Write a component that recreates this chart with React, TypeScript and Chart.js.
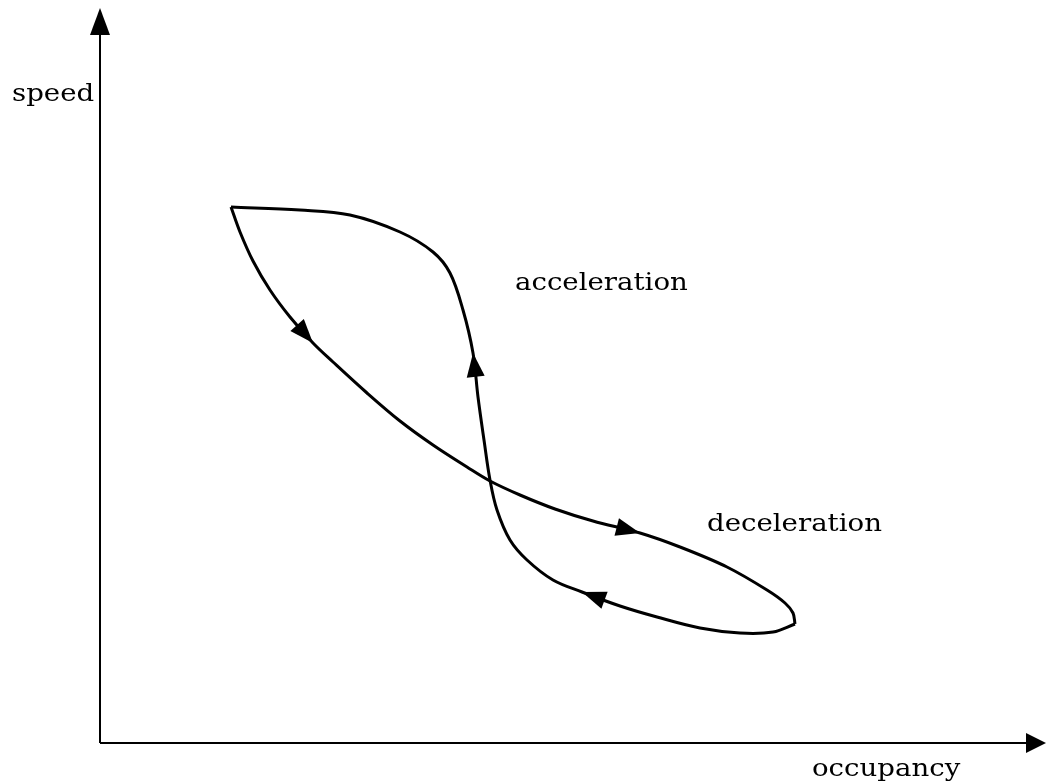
import React, { useEffect, useRef } from "react";
import { Chart, registerables } from "chart.js";

Chart.register(...registerables);

// Data in chart units: occupancy (x) and speed (y), origin at the axes' crossing
const accelOccupancy = [695, 673, 640, 600, 557, 520, 482, 453, 427, 410, 397, 390, 384, 378, 373, 363, 350, 333, 300, 250, 200, 131];
const accelSpeed = [119, 111, 110, 115, 126, 137, 151, 163, 183, 203, 233, 263, 303, 346, 390, 433, 470, 491, 511, 528, 533, 536];
const decelOccupancy = [131, 140, 153, 170, 190, 213, 233, 267, 300, 333, 367, 390, 420, 455, 493, 540, 580, 627, 667, 685, 693, 695];
const decelSpeed = [536, 511, 482, 453, 426, 400, 381, 350, 322, 298, 276, 262, 248, 234, 222, 210, 196, 176, 153, 140, 130, 119];
// arrow tips: [dataset index, point index]
const arrowMarks = [[0, 6], [0, 14], [1, 5], [1, 15]];
const axisLabels = ["speed", "occupancy"];
const branchLabels = ["acceleration", "deceleration"];
const labelPos = [[-88, 642], [712, -33], [415, 453], [607, 212]];

const X_MIN = -100, X_MAX = 946, Y_MIN = -39, Y_MAX = 743;

export default function App() {
  const ref = useRef<HTMLCanvasElement>(null);
  useEffect(() => {
    const canvas = ref.current!;
    const toPts = (xs: number[], ys: number[]) => xs.map((x, i) => ({ x, y: ys[i] }));
    const overlay = {
      id: "overlay",
      afterDatasetsDraw(chart: any) {
        const ctx = chart.ctx as CanvasRenderingContext2D;
        const xs = chart.scales.x, ys = chart.scales.y;
        const px = (v: number) => xs.getPixelForValue(v);
        const py = (v: number) => ys.getPixelForValue(v);
        ctx.save();
        ctx.strokeStyle = "#000";
        ctx.fillStyle = "#000";
        // axes
        ctx.lineWidth = 2;
        ctx.beginPath();
        ctx.moveTo(px(0), py(0));
        ctx.lineTo(px(0), py(Y_MAX - 20));
        ctx.moveTo(px(0), py(0));
        ctx.lineTo(px(X_MAX - 10), py(0));
        ctx.stroke();
        const tri = (tx: number, ty: number, dx: number, dy: number, len: number, hw: number) => {
          const l = Math.hypot(dx, dy);
          const ux = dx / l, uy = dy / l;
          const bx = tx - ux * len, by = ty - uy * len;
          ctx.beginPath();
          ctx.moveTo(tx, ty);
          ctx.lineTo(bx - uy * hw, by + ux * hw);
          ctx.lineTo(bx + uy * hw, by - ux * hw);
          ctx.closePath();
          ctx.fill();
        };
        // axis arrowheads
        tri(px(0), py(Y_MAX - 8), 0, -1, 27, 10);
        tri(px(X_MAX), py(0), 1, 0, 20, 10);
        // curve arrowheads
        arrowMarks.forEach(([d, i]) => {
          const pts = chart.getDatasetMeta(d).data;
          const p = pts[i], q = pts[i - 1];
          tri(p.x, p.y, p.x - q.x, p.y - q.y, 24, 9);
        });
        // labels (wide serif face, horizontally stretched)
        ctx.textBaseline = "alphabetic";
        ctx.textAlign = "left";
        const all = [...axisLabels, ...branchLabels];
        all.forEach((t, i) => {
          ctx.save();
          ctx.translate(px(labelPos[i][0]), py(labelPos[i][1]));
          ctx.scale(1.15, 1);
          ctx.font = "24px DejaVu Serif";
          ctx.fillText(t, 0, 0);
          ctx.restore();
        });
        ctx.restore();
      },
    };
    const chart = new Chart(canvas, {
      type: "scatter",
      data: {
        datasets: [
          { data: toPts(accelOccupancy, accelSpeed), showLine: true, borderColor: "#000", borderWidth: 3, pointRadius: 0, tension: 0.35, clip: false } as any,
          { data: toPts(decelOccupancy, decelSpeed), showLine: true, borderColor: "#000", borderWidth: 3, pointRadius: 0, tension: 0.35, clip: false } as any,
        ],
      },
      options: {
        animation: false,
        responsive: true,
        maintainAspectRatio: false,
        layout: { padding: 0 },
        plugins: { legend: { display: false }, tooltip: { enabled: false } },
        scales: {
          x: { type: "linear", min: X_MIN, max: X_MAX, display: false },
          y: { type: "linear", min: Y_MIN, max: Y_MAX, display: false },
        },
      },
      plugins: [overlay],
    });
    return () => chart.destroy();
  }, []);
  return (
    <div style={{ position: "fixed", left: 0, top: 0, width: 1046, height: 782, background: "#fff" }}>
      <canvas ref={ref} />
    </div>
  );
}
